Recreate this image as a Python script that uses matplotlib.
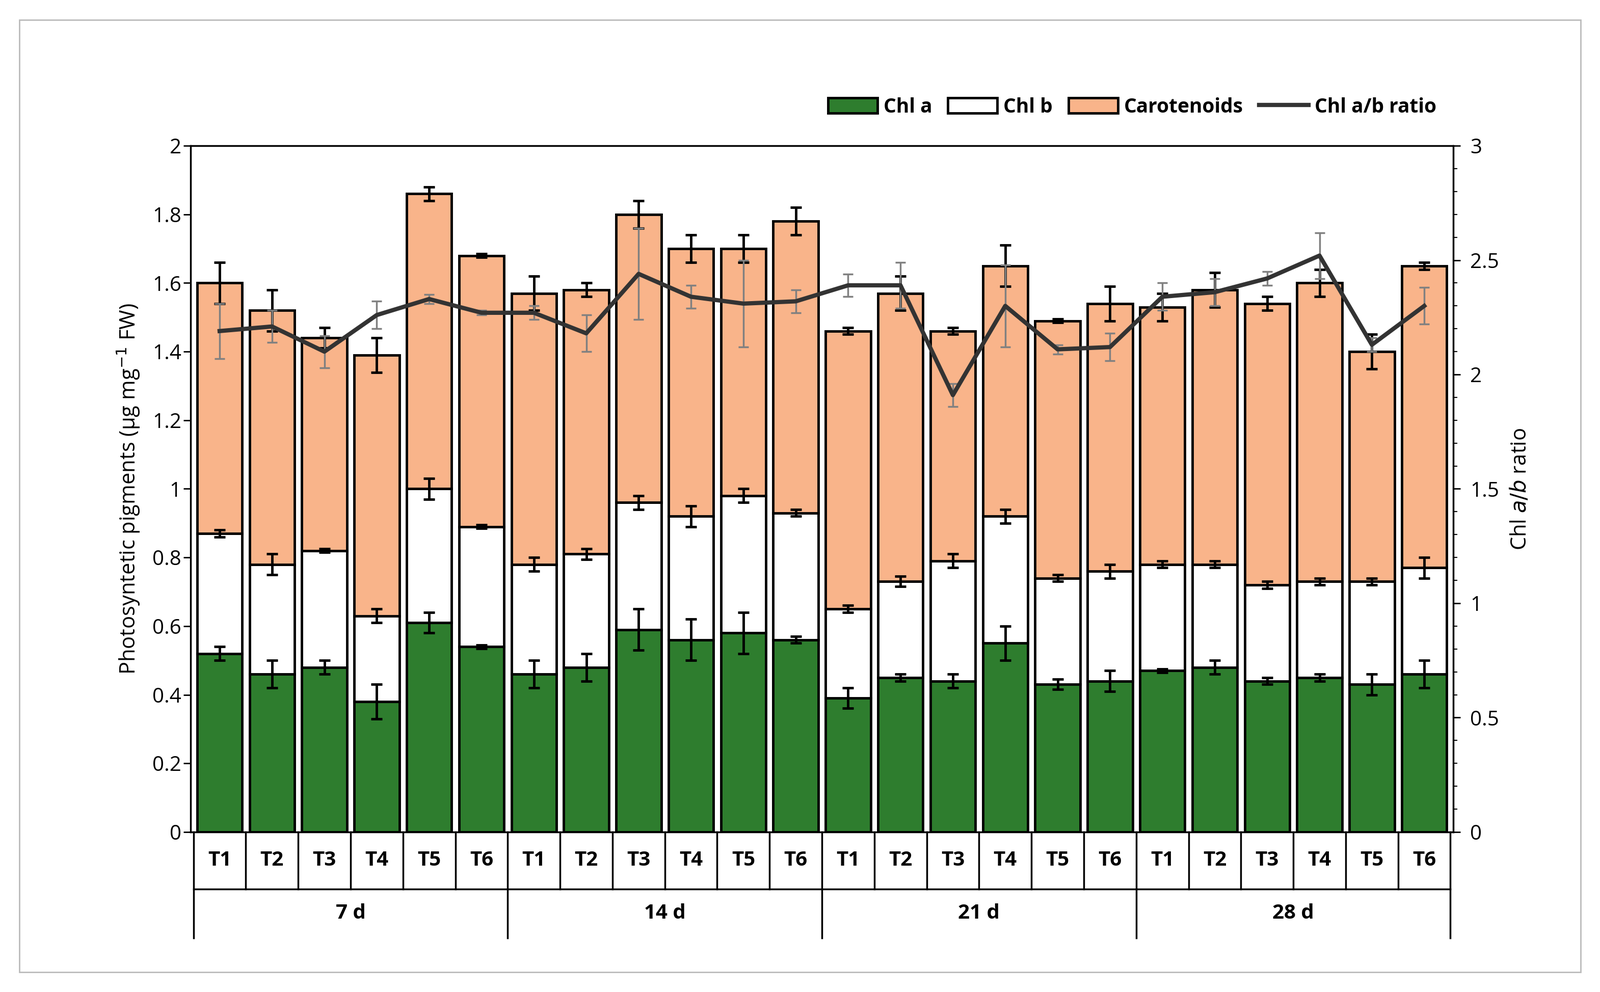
import numpy as np
import matplotlib.pyplot as plt
import matplotlib.transforms as mtransforms

plt.rcParams['font.family'] = 'Open Sans'

treatments = ['T1', 'T2', 'T3', 'T4', 'T5', 'T6']
days = ['7 d', '14 d', '21 d', '28 d']

chl_a = [0.52, 0.46, 0.48, 0.38, 0.61, 0.54,
         0.46, 0.48, 0.59, 0.56, 0.58, 0.56,
         0.39, 0.45, 0.44, 0.55, 0.43, 0.44,
         0.47, 0.48, 0.44, 0.45, 0.43, 0.46]
chl_ab = [0.87, 0.78, 0.82, 0.63, 1.00, 0.89,
          0.78, 0.81, 0.96, 0.92, 0.98, 0.93,
          0.65, 0.73, 0.79, 0.92, 0.74, 0.76,
          0.78, 0.78, 0.72, 0.73, 0.73, 0.77]
total = [1.60, 1.52, 1.44, 1.39, 1.86, 1.68,
         1.57, 1.58, 1.80, 1.70, 1.70, 1.78,
         1.46, 1.57, 1.46, 1.65, 1.49, 1.54,
         1.53, 1.58, 1.54, 1.60, 1.40, 1.65]
err_a = [0.02, 0.04, 0.02, 0.05, 0.03, 0.005,
         0.04, 0.04, 0.06, 0.06, 0.06, 0.01,
         0.03, 0.01, 0.02, 0.05, 0.015, 0.03,
         0.005, 0.02, 0.01, 0.01, 0.03, 0.04]
err_b = [0.01, 0.03, 0.005, 0.02, 0.03, 0.005,
         0.02, 0.015, 0.02, 0.03, 0.02, 0.01,
         0.01, 0.015, 0.02, 0.02, 0.01, 0.02,
         0.01, 0.01, 0.01, 0.01, 0.01, 0.03]
err_c = [0.06, 0.06, 0.03, 0.05, 0.02, 0.005,
         0.05, 0.02, 0.04, 0.04, 0.04, 0.04,
         0.01, 0.05, 0.01, 0.06, 0.005, 0.05,
         0.04, 0.05, 0.02, 0.04, 0.05, 0.01]
ratio = [2.19, 2.21, 2.10, 2.26, 2.33, 2.27,
         2.27, 2.18, 2.44, 2.34, 2.31, 2.32,
         2.39, 2.39, 1.91, 2.30, 2.11, 2.12,
         2.34, 2.36, 2.42, 2.52, 2.13, 2.30]
err_r = [0.12, 0.07, 0.07, 0.06, 0.02, 0.01,
         0.03, 0.08, 0.20, 0.05, 0.19, 0.05,
         0.05, 0.10, 0.05, 0.18, 0.02, 0.06,
         0.06, 0.06, 0.03, 0.10, 0.03, 0.08]

chl_a = np.array(chl_a)
chl_b = np.array(chl_ab) - chl_a
car = np.array(total) - np.array(chl_ab)
x = np.arange(len(chl_a))

fig = plt.figure(figsize=(31.4, 19.47), dpi=100)
ax = fig.add_axes([187/1568, 1 - 816/973, (1424-187)/1568, (816-143)/973])
fig.patches.append(plt.Rectangle((0.012, 0.02), 0.976, 0.96, transform=fig.transFigure,
                                 fill=False, edgecolor='#bbbbbb', linewidth=2))

w = 0.86
ekw = dict(elinewidth=3.5, capsize=8, capthick=3.5, ecolor='black')
ax.bar(x, chl_a, w, color='#2e7d2e', edgecolor='black', linewidth=3.5, label='Chl a')
ax.bar(x, chl_b, w, bottom=chl_a, color='white', edgecolor='black', linewidth=3.5, label='Chl b')
ax.bar(x, car, w, bottom=chl_a + chl_b, color='#f9b48a', edgecolor='black', linewidth=3.5,
       label='Carotenoids')
ax.errorbar(x, chl_a, yerr=err_a, fmt='none', **ekw)
ax.errorbar(x, chl_ab, yerr=err_b, fmt='none', **ekw)
ax.errorbar(x, total, yerr=err_c, fmt='none', **ekw)

ax.set_xlim(-0.55, len(x) - 0.45)
ax.set_ylim(0, 2)
ax.set_yticks(np.arange(0, 2.01, 0.2))
ax.set_yticklabels(['0', '0.2', '0.4', '0.6', '0.8', '1', '1.2', '1.4', '1.6', '1.8', '2'])
ax.set_xticks([])
ax.tick_params(axis='y', labelsize=29, width=2, length=10)
for s in ax.spines.values():
    s.set_linewidth(2.5)
ax.set_ylabel('Photosyntetic pigments (µg mg$^{-1}$ FW)', fontsize=30, labelpad=15)

ax2 = ax.twinx()
ax2.errorbar(x, ratio, yerr=err_r, fmt='none', elinewidth=2.5, capsize=7, capthick=2.5,
             ecolor='#808080')
ax2.plot(x, ratio, color='#333333', linewidth=6, label='Chl a/b ratio')
ax2.set_ylim(0, 3)
ax2.set_yticks(np.arange(0, 3.01, 0.5))
ax2.set_yticklabels(['0', '0.5', '1', '1.5', '2', '2.5', '3'])
ax2.set_yticks(np.arange(0, 3.01, 0.1), minor=True)
ax2.tick_params(axis='y', labelsize=29, width=2, length=10, pad=14)
ax2.tick_params(axis='y', which='minor', width=1.5, length=6)
ax2.set_ylabel('Chl $\\it{a/b}$ ratio', fontsize=30, labelpad=15)

# category labels below the axis
tr = mtransforms.blended_transform_factory(ax.transData, ax.transAxes)
y1 = -(872 - 816) / (816 - 143)
y2 = -(920 - 816) / (816 - 143)
for i in x:
    ax.text(i, y1 / 2, treatments[i % 6], transform=tr, ha='center', va='center',
            fontsize=29, fontweight='bold')
for i in range(len(x) + 1):
    bottom = y2 if i % 6 == 0 else y1
    ax.plot([i - 0.5, i - 0.5], [0, bottom], transform=tr, color='black', lw=2.5, clip_on=False)
ax.plot([-0.5, len(x) - 0.5], [y1, y1], transform=tr, color='black', lw=2.5, clip_on=False)
for g, d in enumerate(days):
    ax.text(g * 6 + 2.5, (y1 + y2) / 2, d, transform=tr, ha='center', va='center',
            fontsize=29, fontweight='bold')

h1, l1 = ax.get_legend_handles_labels()
h2, l2 = ax2.get_legend_handles_labels()
leg = fig.legend(h1 + h2, l1 + l2, loc='center right', bbox_to_anchor=(1425/1568, 1 - 105/973),
                 ncol=4, frameon=False, prop={'size': 28, 'weight': 'bold'},
                 handlelength=2.5, handleheight=0.8, columnspacing=0.8, handletextpad=0.3)

fig.savefig('out.png', dpi=100)
